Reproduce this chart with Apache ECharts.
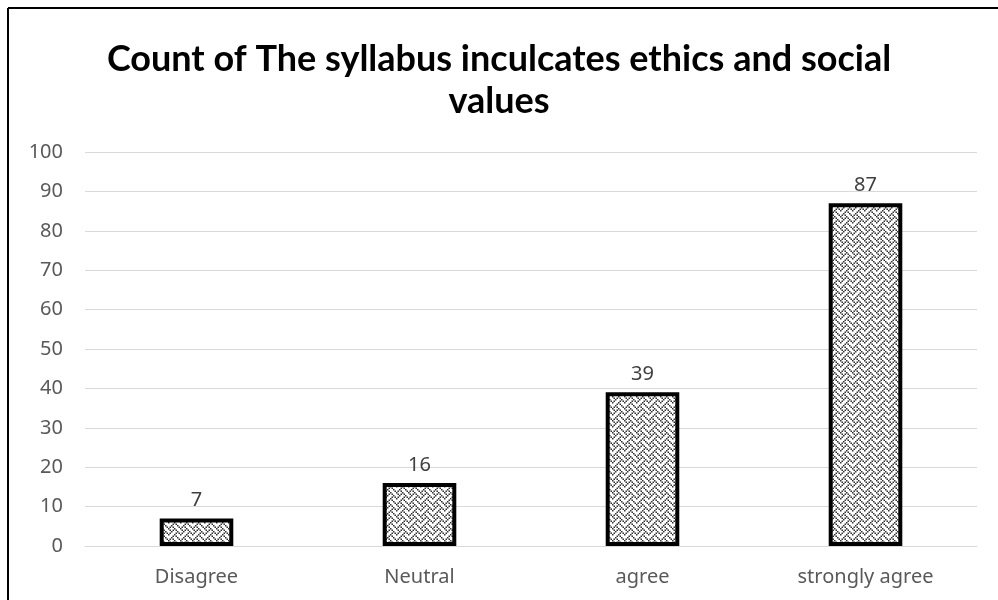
<!DOCTYPE html>
<html>
<head>
<meta charset="utf-8">
<script src="https://cdn.jsdelivr.net/npm/echarts@6/dist/echarts.min.js"></script>
<style>html,body{margin:0;padding:0;background:#fff}#c{width:998px;height:600px}</style>
</head>
<body>
<div id="c"></div>
<script>
var categories = ['Disagree', 'Neutral', 'agree', 'strongly agree'];
var counts = [7, 16, 39, 87];
var titleText = 'Count of The syllabus inculcates ethics and social\nvalues';

function makePattern() {
  var bits = [
    '10001000',
    '01010100',
    '00100010',
    '01000101',
    '10001000',
    '00010100',
    '00100010',
    '01010001'
  ];
  var s = 1.5;
  var cv = document.createElement('canvas');
  cv.width = 12; cv.height = 12;
  var ctx = cv.getContext('2d');
  ctx.fillStyle = '#ffffff';
  ctx.fillRect(0, 0, 12, 12);
  ctx.fillStyle = '#333333';
  for (var y = 0; y < 8; y++) {
    for (var x = 0; x < 8; x++) {
      if (bits[y][x] === '1') ctx.fillRect(x * s, y * s, s, s);
    }
  }
  return cv;
}

var chart = echarts.init(document.getElementById('c'), null, {renderer: 'canvas'});
var font = '"Noto Sans", sans-serif';
chart.setOption({
  animation: false,
  textStyle: {fontFamily: font},
  title: {
    text: titleText,
    left: 'center',
    top: 33,
    textStyle: {fontFamily: 'Lato, sans-serif', fontSize: 36, fontWeight: 'bold', color: '#000', lineHeight: 42}
  },
  grid: {left: 85, right: 21, top: 152, bottom: 54, containLabel: false},
  xAxis: {
    type: 'category',
    data: categories,
    axisLine: {show: true, lineStyle: {color: '#d9d9d9', width: 1}},
    axisTick: {show: false},
    axisLabel: {color: '#595959', fontSize: 20, margin: 21, fontFamily: font}
  },
  yAxis: {
    type: 'value',
    min: 0, max: 100, interval: 10,
    axisLine: {show: false},
    axisTick: {show: false},
    axisLabel: {color: '#595959', fontSize: 20, margin: 22, fontFamily: font},
    splitLine: {lineStyle: {color: '#d9d9d9', width: 1}}
  },
  series: [{
    type: 'bar',
    data: counts,
    barWidth: '33%',
    itemStyle: {
      color: {image: makePattern(), repeat: 'repeat'},
      borderColor: '#000',
      borderWidth: 4
    },
    label: {show: true, position: 'top', distance: 8, color: '#404040', fontSize: 20, fontFamily: font}
  }],
  graphic: [
    {type: 'line', shape: {x1: 8, y1: 8, x2: 998, y2: 8}, style: {stroke: '#000', lineWidth: 2}},
    {type: 'line', shape: {x1: 8, y1: 8, x2: 8, y2: 600}, style: {stroke: '#000', lineWidth: 2}}
  ]
});
</script>
</body>
</html>
